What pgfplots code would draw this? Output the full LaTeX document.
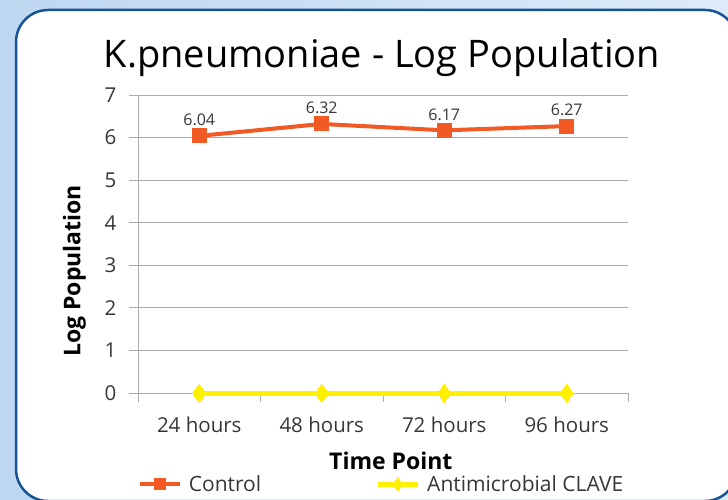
\documentclass[border=0pt]{standalone}
\usepackage{pgfplots}
\pgfplotsset{compat=1.18}
\usepackage{fontspec}
\setmainfont{Open Sans}
\definecolor{ctrl}{RGB}{241,90,36}
\definecolor{clave}{RGB}{255,240,0}
\definecolor{frameblue}{RGB}{22,84,150}
\definecolor{bgblue}{RGB}{190,215,240}
\definecolor{bglight}{RGB}{222,235,248}
\definecolor{gridgray}{RGB}{170,170,170}
\definecolor{txt}{RGB}{55,55,55}
\begin{document}
\begin{tikzpicture}[x=1pt,y=1pt]
\useasboundingbox (0,0) rectangle (728,499);
\shade[left color=bgblue,right color=bglight] (0,0) rectangle (728,499);
\draw[frameblue,line width=2.5pt,fill=white,rounded corners=32pt] (16,-2) rectangle (737,489);
\node[font=\fontsize{38}{45}\selectfont, anchor=base] at (382,431) {K.pneumoniae - Log Population};
\begin{axis}[
  at={(138pt,106pt)}, anchor=south west, scale only axis,
  width=490pt, height=298pt,
  xmin=-0.5, xmax=3.5, ymin=0, ymax=7,
  xtick={0,1,2,3}, xticklabels={24 hours,48 hours,72 hours,96 hours},
  minor xtick={-0.5,0.5,1.5,2.5,3.5},
  ytick={0,1,2,3,4,5,6,7},
  axis lines=left, axis line style={gridgray,-,line width=1pt},
  tick align=outside,
  major x tick style={draw=none},
  minor tick length=9pt, major tick length=9pt,
  tick style={gridgray,line width=1pt},
  ymajorgrids, grid style={gridgray,line width=1pt},
  ticklabel style={font=\fontsize{20.5}{24}\selectfont, text=txt},
  xticklabel style={yshift=-11pt},
  yticklabel style={xshift=-9pt},
  /pgf/number format/assume math mode=true,
  xlabel={Time Point}, ylabel={Log Population},
  xlabel style={font=\fontsize{23}{27}\selectfont\bfseries, at={(axis description cs:0.516,-0.228)}, anchor=center},
  ylabel style={font=\fontsize{23}{27}\selectfont\bfseries, at={(axis description cs:-0.130,0.41)}, anchor=center},
  legend columns=2,
  legend style={draw=none, fill=none, at={(axis description cs:0.497,-0.306)}, anchor=center,
    font=\fontsize{21}{25}\selectfont, text=txt,
    /tikz/every odd column/.append style={column sep=5pt},
    /tikz/every even column/.append style={column sep=112pt}},
  legend image code/.code={\draw[mark repeat=2,mark phase=2,#1,mark options={solid,line width=0pt,scale=0.75}] plot coordinates {(0pt,0pt) (20pt,0pt) (40pt,0pt)};},
  clip=false,
]
\addplot[ctrl, line width=4pt, mark=square*, mark size=7pt, mark options={solid,line width=0pt},
  nodes near coords, point meta=explicit symbolic,
  every node near coord/.append style={font=\fontsize{16}{19}\selectfont, text=txt, anchor=south, inner sep=0pt, yshift=10pt}]
  coordinates {(0,6.04) [6.04] (1,6.32) [6.32] (2,6.17) [6.17] (3,6.27) [6.27]};
\addlegendentry{Control}
\addplot[clave, line width=5pt, mark=diamond*, mark size=9pt, mark options={solid,line width=0pt}]
  coordinates {(0,0) (1,0) (2,0) (3,0)};
\addlegendentry{Antimicrobial CLAVE}
\end{axis}
\end{tikzpicture}
\end{document}
